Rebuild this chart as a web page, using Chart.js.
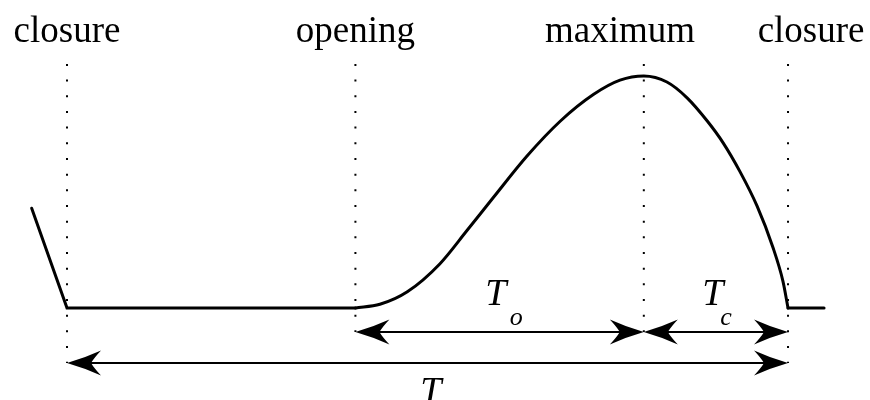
<!DOCTYPE html>
<html>
<head>
<meta charset="utf-8">
<script src="https://cdn.jsdelivr.net/npm/chart.js@4.4.1/dist/chart.umd.min.js"></script>
<style>
  html, body { margin: 0; padding: 0; background: #fff; }
  #pulse { display: block; }
</style>
</head>
<body>
<canvas id="pulse" width="870" height="400"></canvas>
<script>
// Glottal flow pulse: time in ms (one period T = 10), flow normalised to its peak
const leadT = [-0.49, 0, 4];
const leadFlow = [0.43, 0, 0];
const pulseT = [4, 4.34, 4.72, 5.17, 5.55, 5.91, 6.38, 6.84, 7.3, 7.67, 8, 8.32, 8.6, 8.88, 9.1, 9.33, 9.57, 9.79, 9.93, 10];
const pulseFlow = [0, 0.016, 0.07, 0.19, 0.335, 0.475, 0.655, 0.805, 0.92, 0.982, 1, 0.974, 0.906, 0.806, 0.712, 0.59, 0.44, 0.262, 0.115, 0];
const tailT = [10, 10.5];
const tailFlow = [0, 0];

// phase instants
const eventT = [0, 4, 8, 10];
const eventNames = ['closure', 'opening', 'maximum', 'closure'];
const eventLabelT = [0, 4, 7.67, 10.32];
const eventLabelFlow = 1.147;
const markerTop = 1.052;
const markerBottom = [-0.237, -0.103, -0.103, -0.237];

// duration spans (T_o, T_c, T)
const spanFrom = [4, 8, 0];
const spanTo = [8, 10, 10];
const spanLevel = [-0.103, -0.103, -0.237];
const spanSymbol = ['T', 'T', 'T'];
const spanSub = ['o', 'c', ''];
const spanLabelT = [5.8, 8.81, 4.9];
const spanSubT = [6.14, 9.06, 0];
const spanLabelFlow = [0.013, 0.013, -0.409];
const spanSubFlow = -0.073;

const toPoints = (xs, ys) => xs.map((v, i) => ({ x: v, y: ys[i] }));

function arrowHead(ctx, tipX, tipY, dir) {
    ctx.save();
    ctx.translate(tipX, tipY);
    ctx.scale(dir, 1);
    ctx.beginPath();
    ctx.moveTo(0, 0);
    ctx.quadraticCurveTo(-18, -5.2, -34, -12.5);
    ctx.quadraticCurveTo(-27, -5, -24, 0);
    ctx.quadraticCurveTo(-27, 5, -34, 12.5);
    ctx.quadraticCurveTo(-18, 5.2, 0, 0);
    ctx.fill();
    ctx.restore();
}

// labels and duration arrows on top of the curve
const annotate = {
    id: 'annotate',
    afterDatasetsDraw(chart) {
        const { ctx, scales: { x, y } } = chart;
        ctx.save();
        ctx.fillStyle = '#000';
        ctx.strokeStyle = '#000';
        ctx.textBaseline = 'alphabetic';

        ctx.font = '37px "Liberation Serif"';
        ctx.textAlign = 'center';
        eventNames.forEach((name, i) => {
            ctx.fillText(name, x.getPixelForValue(eventLabelT[i]), y.getPixelForValue(eventLabelFlow));
        });

        spanFrom.forEach((from, i) => {
            const x0 = x.getPixelForValue(from);
            const x1 = x.getPixelForValue(spanTo[i]);
            const yy = y.getPixelForValue(spanLevel[i]);
            ctx.lineWidth = 2;
            ctx.beginPath();
            ctx.moveTo(x0 + 20, yy);
            ctx.lineTo(x1 - 20, yy);
            ctx.stroke();
            arrowHead(ctx, x0, yy, -1);
            arrowHead(ctx, x1, yy, 1);

            ctx.textAlign = 'left';
            ctx.font = 'italic 38px "Liberation Serif"';
            ctx.fillText(spanSymbol[i], x.getPixelForValue(spanLabelT[i]), y.getPixelForValue(spanLabelFlow[i]));
            if (spanSub[i]) {
                ctx.font = 'italic 26px "Liberation Serif"';
                ctx.fillText(spanSub[i], x.getPixelForValue(spanSubT[i]), y.getPixelForValue(spanSubFlow));
            }
        });
        ctx.restore();
    }
};

const curveStyle = {
    showLine: true,
    borderColor: '#000',
    borderWidth: 3,
    pointRadius: 0,
    borderJoinStyle: 'miter',
    borderCapStyle: 'round'
};

const markers = eventT.map((t, i) => ({
    data: toPoints([t, t], [markerTop, markerBottom[i]]),
    showLine: true,
    borderColor: '#000',
    borderWidth: 2,
    borderDash: [2, 13.67],
    borderCapStyle: 'butt',
    pointRadius: 0
}));

new Chart(document.getElementById('pulse'), {
    type: 'scatter',
    data: {
        datasets: [
            { ...curveStyle, data: toPoints(leadT, leadFlow), tension: 0 },
            { ...curveStyle, data: toPoints(pulseT, pulseFlow), cubicInterpolationMode: 'monotone' },
            { ...curveStyle, data: toPoints(tailT, tailFlow), tension: 0 },
            ...markers
        ]
    },
    options: {
        responsive: false,
        devicePixelRatio: 1,
        animation: false,
        layout: { padding: 0 },
        plugins: { legend: { display: false }, tooltip: { enabled: false } },
        scales: {
            x: { type: 'linear', display: false, min: -0.9293, max: 11.137 },
            y: { type: 'linear', display: false, min: -0.3966, max: 1.3276 }
        }
    },
    plugins: [annotate]
});
</script>
</body>
</html>
